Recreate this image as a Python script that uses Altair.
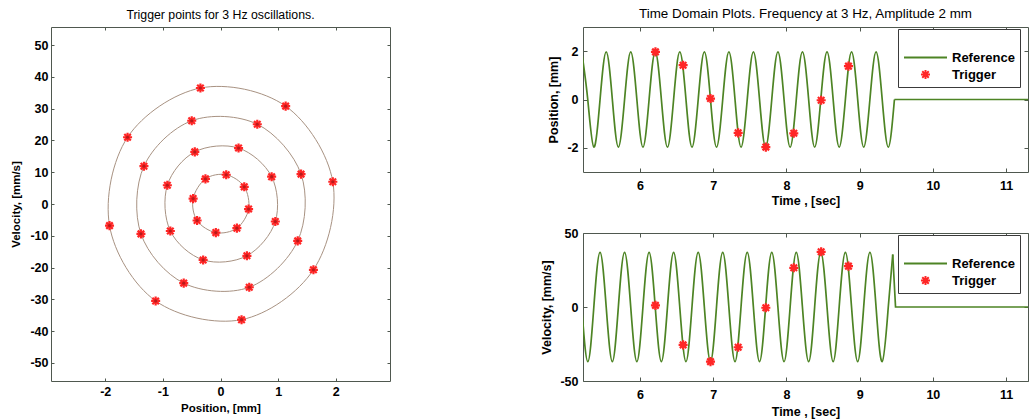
import altair as alt
import pandas as pd

# ------------------------------------------------------------------ data
# Left panel: trigger points on the phase portrait (position mm, velocity mm/s)
ring_id = ["r4", "r4", "r4", "r4", "r4", "r4", "r4", "r4",
           "r3", "r3", "r3", "r3", "r3", "r3", "r3", "r3",
           "r2", "r2", "r2", "r2", "r2", "r2", "r2", "r2",
           "r1", "r1", "r1", "r1", "r1", "r1", "r1", "r1"]
ring_idx = [0, 1, 2, 3, 4, 5, 6, 7,
            0, 1, 2, 3, 4, 5, 6, 7,
            0, 1, 2, 3, 4, 5, 6, 7,
            0, 1, 2, 3, 4, 5, 6, 7]
trig_pos = [-0.348, 1.130, 1.948, 1.612, 0.365, -1.125, -1.925, -1.612,
            -0.499, 0.638, 1.397, 1.339, 0.499, -0.638, -1.380, -1.328,
            -0.446, 0.313, 0.887, 0.951, 0.458, -0.301, -0.870, -0.922,
            -0.261, 0.099, 0.412, 0.487, 0.284, -0.081, -0.406, -0.475]
trig_vel = [36.5, 30.8, 7.0, -20.7, -36.4, -30.5, -6.8, 21.0,
            26.2, 25.1, 9.4, -11.6, -26.2, -24.9, -9.4, 11.9,
            16.4, 17.6, 8.6, -5.5, -16.3, -17.6, -8.5, 5.9,
            7.9, 9.2, 5.4, -1.6, -7.6, -9.0, -5.2, 1.7]

# Right panels: reference signal key points (extrema and zero crossings)
pos_t = [5.202, 5.285, 5.368, 5.453, 5.537, 5.621, 5.703, 5.788, 5.872, 5.956,
         6.039, 6.123, 6.207, 6.291, 6.374, 6.458, 6.542, 6.627, 6.709, 6.794,
         6.878, 6.962, 7.044, 7.129, 7.213, 7.297, 7.379, 7.464, 7.548, 7.632,
         7.715, 7.799, 7.883, 7.967, 8.050, 8.134, 8.218, 8.303, 8.385, 8.469,
         8.554, 8.638, 8.720, 8.805, 8.889, 8.973, 9.055, 9.140, 9.224, 9.308,
         9.391, 9.475]
pos_v = [1.97, 0.0, -1.97, 0.0, 1.97, 0.0, -1.97, 0.0, 1.97, 0.0,
         -1.97, 0.0, 1.97, 0.0, -1.97, 0.0, 1.97, 0.0, -1.97, 0.0,
         1.97, 0.0, -1.97, 0.0, 1.97, 0.0, -1.97, 0.0, 1.97, 0.0,
         -1.97, 0.0, 1.97, 0.0, -1.97, 0.0, 1.97, 0.0, -1.97, 0.0,
         1.97, 0.0, -1.97, 0.0, 1.97, 0.0, -1.97, 0.0, 1.97, 0.0,
         -1.97, 0.0]
pos_end_t = [9.475, 11.30]
pos_end_v = [0.0, 0.0]

vel_t = [5.202, 5.286, 5.368, 5.453, 5.537, 5.621, 5.703, 5.788, 5.872, 5.956,
         6.039, 6.123, 6.207, 6.291, 6.374, 6.458, 6.542, 6.627, 6.709, 6.794,
         6.878, 6.962, 7.044, 7.129, 7.213, 7.297, 7.379, 7.464, 7.548, 7.632,
         7.715, 7.799, 7.883, 7.967, 8.050, 8.134, 8.218, 8.303, 8.385, 8.469,
         8.554, 8.638, 8.720, 8.805, 8.889, 8.973, 9.055, 9.140, 9.224, 9.308,
         9.391, 9.452]
vel_v = [0.0, -36.9, 0.0, 36.9, 0.0, -36.9, 0.0, 36.9, 0.0, -36.9,
         0.0, 36.9, 0.0, -36.9, 0.0, 36.9, 0.0, -36.9, 0.0, 36.9,
         0.0, -36.9, 0.0, 36.9, 0.0, -36.9, 0.0, 36.9, 0.0, -36.9,
         0.0, 36.9, 0.0, -36.9, 0.0, 36.9, 0.0, -36.9, 0.0, 36.9,
         0.0, -36.9, 0.0, 36.9, 0.0, -36.9, 0.0, 36.9, 0.0, -36.9,
         0.0, 35.5]
vel_end_t = [9.452, 9.490, 11.30]
vel_end_v = [35.5, 0.0, 0.0]

# Trigger samples in the time domain
trg_t = [6.210, 6.588, 6.962, 7.340, 7.718, 8.100, 8.474, 8.847]
trg_pos = [1.97, 1.42, 0.04, -1.38, -1.97, -1.40, -0.03, 1.38]
trg_vel = [1.1, -25.6, -36.9, -27.2, -0.5, 26.5, 37.3, 27.6]

series_names = ["Reference", "Trigger"]

# axis ticks
left_xticks = [-2, -1, 0, 1, 2]
left_yticks = [-50, -40, -30, -20, -10, 0, 10, 20, 30, 40, 50]
time_ticks = [6, 7, 8, 9, 10, 11]
pos_ticks = [-2, 0, 2]
vel_ticks = [-50, 0, 50]

# ------------------------------------------------------------------ style
FONT = "Liberation Sans"
FRAME = "#4f584f"
GREEN = "#4d8424"
RED = "#ff2626"
CIRCLE = "#a89282"
ASTER = "M-1,0L1,0M0,-1L0,1M-0.72,-0.72L0.72,0.72M-0.72,0.72L0.72,-0.72"

LW, LH = 339, 354
RW, RH1, RH2 = 445, 145, 148


def label_x(values, title, title_y, pad, fs, tfs):
    return alt.Axis(orient="bottom", values=values, title=title, titleY=title_y,
                    titleBaseline="middle", ticks=False, tickSize=0, domain=False,
                    grid=False, labelPadding=pad, labelExpr="datum.value + ''",
                    labelFlush=False, labelOverlap=False, labelFontSize=fs,
                    titleFontSize=tfs)


def label_y(values, title, title_x, pad, fs, tfs):
    return alt.Axis(orient="left", values=values, title=title, titleX=title_x,
                    titleBaseline="middle", ticks=False, tickSize=0, domain=False,
                    grid=False, labelPadding=pad, labelExpr="datum.value + ''",
                    labelFlush=False, labelOverlap=False, labelFontSize=fs,
                    titleFontSize=tfs)


def tick_axis(orient, values, offset, size):
    return alt.Axis(orient=orient, values=values, offset=offset, labels=False,
                    ticks=True, tickSize=size, domain=False, grid=False,
                    title=None, tickColor=FRAME, tickWidth=1)


# ------------------------------------------------------------------ left panel
ring_df = pd.DataFrame({"ring": ring_id, "idx": ring_idx,
                        "pos": trig_pos, "vel": trig_vel})
lxs = alt.Scale(domain=[-2.94, 2.94], nice=False, zero=False)
lys = alt.Scale(domain=[-55.7, 55.7], nice=False, zero=False)

circles = alt.Chart(ring_df).mark_line(
    interpolate="cardinal-closed", color=CIRCLE, strokeWidth=1.0
).encode(
    x=alt.X("pos:Q", scale=lxs,
            axis=label_x(left_xticks, "Position, [mm]", 27.5, 4, 12.5, 11.5)),
    y=alt.Y("vel:Q", scale=lys,
            axis=label_y(left_yticks, "Velocity, [mm/s]", -35, 3, 12.5, 11.5)),
    detail="ring:N",
    order="idx:Q",
)
stars = alt.Chart(ring_df).mark_point(
    shape=ASTER, size=82, filled=False, color=RED, strokeWidth=2.2, opacity=1
).encode(
    x=alt.X("pos:Q", scale=lxs, axis=tick_axis("top", left_xticks, -LH, 3)),
    y=alt.Y("vel:Q", scale=lys, axis=tick_axis("right", left_yticks, -LW, 3)),
)
cores = alt.Chart(ring_df).mark_point(
    shape="circle", size=10, filled=True, color="#b01a1a", opacity=0.9
).encode(
    x=alt.X("pos:Q", scale=lxs, axis=tick_axis("bottom", left_xticks, -LH, 3)),
    y=alt.Y("vel:Q", scale=lys, axis=tick_axis("left", left_yticks, -LW, 3)),
)
left = alt.layer(circles, stars, cores).resolve_axis(
    x="independent", y="independent"
).properties(
    width=LW, height=LH,
    title=alt.TitleParams("Trigger points for 3 Hz oscillations.", fontSize=12.3,
                          fontWeight="normal", offset=5),
)


# ------------------------------------------------------------------ right panels
def time_panel(lt, lv, et, ev, tv, ydom, yticks, ytitle, ytitle_x, H, title_y):
    line_df = pd.DataFrame({"t": lt, "v": lv})
    end_df = pd.DataFrame({"t": et, "v": ev})
    tr_df = pd.DataFrame({"t": trg_t, "v": tv,
                          "series": ["Trigger"] * len(trg_t)})
    xs = alt.Scale(domain=[5.22, 11.30], nice=False, zero=False)
    ys = alt.Scale(domain=ydom, nice=False, zero=False)
    leg = alt.Legend(orient="none", legendX=315, legendY=2, title=" ",
                     titleFontSize=12, titlePadding=4, padding=5,
                     strokeColor="#3a3a3a", fillColor="white", cornerRadius=0,
                     clipHeight=15, rowPadding=2, labelOffset=4,
                     labelFontSize=13, labelFontWeight="bold", labelColor="black",
                     symbolStrokeWidth=2, symbolOpacity=1, symbolOffset=0)
    wave = alt.Chart(line_df).mark_line(
        interpolate="natural", color=GREEN, strokeWidth=1.7, clip=True
    ).encode(
        x=alt.X("t:Q", scale=xs,
                axis=label_x(time_ticks, "Time , [sec]", title_y, 7, 12.5, 12.5)),
        y=alt.Y("v:Q", scale=ys,
                axis=label_y(yticks, ytitle, ytitle_x, 5, 12.5, 12.5)),
    )
    flat = alt.Chart(end_df).mark_line(
        color=GREEN, strokeWidth=1.7, clip=True
    ).encode(
        x=alt.X("t:Q", scale=xs, axis=tick_axis("top", time_ticks, -H, 4)),
        y=alt.Y("v:Q", scale=ys, axis=tick_axis("right", yticks, -RW, 4)),
    )
    pts = alt.Chart(tr_df).mark_point(
        filled=False, strokeWidth=2.2, opacity=1
    ).encode(
        x=alt.X("t:Q", scale=xs, axis=tick_axis("bottom", time_ticks, -H, 4)),
        y=alt.Y("v:Q", scale=ys, axis=tick_axis("left", yticks, -RW, 4)),
        color=alt.Color("series:N", legend=leg,
                        scale=alt.Scale(domain=series_names, range=[GREEN, RED])),
        shape=alt.Shape("series:N", legend=leg,
                        scale=alt.Scale(domain=series_names, range=["stroke", ASTER])),
        size=alt.Size("series:N", legend=leg,
                      scale=alt.Scale(domain=series_names, range=[1849, 82])),
    )
    return alt.layer(wave, flat, pts).resolve_axis(
        x="independent", y="independent"
    ).properties(width=RW, height=H)


top = time_panel(pos_t, pos_v, pos_end_t, pos_end_v, trg_pos, [-3, 3], pos_ticks,
                 "Position, [mm]", -30, RH1, 28).properties(
    title=alt.TitleParams("Time Domain Plots. Frequency at 3 Hz, Amplitude 2 mm",
                          fontSize=13.4, fontWeight="normal", offset=6))
bottom = time_panel(vel_t, vel_v, vel_end_t, vel_end_v, trg_vel, [-50, 50], vel_ticks,
                    "Velocity, [mm/s]", -37, RH2, 30.5)

right = alt.vconcat(top, bottom, spacing=61, bounds="flush").resolve_scale(
    color="independent", shape="independent", size="independent"
).resolve_legend(color="independent", shape="independent", size="independent")

chart = alt.hconcat(left, right, spacing=193, bounds="flush").properties(
    padding={"left": 9, "top": 6, "right": 0, "bottom": 0},
    background="white",
).configure(font=FONT).configure_view(
    stroke=FRAME, strokeWidth=1
).configure_axis(
    labelFont=FONT, titleFont=FONT, labelFontWeight="bold", titleFontWeight="bold",
    labelColor="black", titleColor="black",
).configure_title(
    font=FONT, color="black", anchor="middle",
).configure_legend(
    labelFont=FONT, titleFont=FONT,
)

chart.save("out.html", embed_options={"renderer": "svg", "actions": False})
